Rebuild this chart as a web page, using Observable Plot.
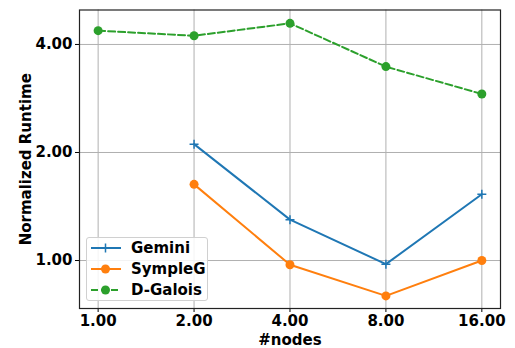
<!DOCTYPE html>
<html>
<head>
<meta charset="utf-8">
<script src="https://cdn.jsdelivr.net/npm/d3@7"></script>
<script src="https://cdn.jsdelivr.net/npm/@observablehq/plot@0.6"></script>
<style>
  html, body { margin: 0; padding: 0; background: white; }
  #wrap { position: relative; width: 515px; height: 348px; }
  .legend { position: absolute; left: 86px; top: 237px; width: 122px; height: 64px;
    border: 1px solid #d0d0d0; border-radius: 3px; background: rgba(255,255,255,0.85);
    font-family: "DejaVu Sans"; font-weight: bold; font-size: 15px; box-sizing: border-box; }
  .legend .row { position: absolute; left: 0; height: 20px; display: flex; align-items: center; white-space: nowrap; }
</style>
</head>
<body>
<div id="wrap"></div>
<script>
const nodes = [1, 2, 4, 8, 16];
const xTicks = [1, 2, 4, 8, 16];
const yTicks = [1, 2, 4];
const seriesNames = ["Gemini", "SympleG", "D-Galois"];
const geminiX = [2, 4, 8, 16];
const gemini = [2.11, 1.30, 0.977, 1.53];
const sympleGX = [2, 4, 8, 16];
const sympleG = [1.63, 0.973, 0.797, 1.00];
const dGaloisX = [1, 2, 4, 8, 16];
const dGalois = [4.37, 4.23, 4.58, 3.47, 2.91];
const colors = ["#1f77b4", "#ff7f0e", "#2ca02c"];

const toRows = (xs, ys, s) => xs.map((x, i) => ({x, y: ys[i], s}));
const gRows = toRows(geminiX, gemini, seriesNames[0]);
const sRows = toRows(sympleGX, sympleG, seriesNames[1]);
const dRows = toRows(dGaloisX, dGalois, seriesNames[2]);

const plusSymbol = {
  draw(context, size) {
    const r = 4.5;
    context.moveTo(-r, 0); context.lineTo(r, 0);
    context.moveTo(0, -r); context.lineTo(0, r);
  }
};

const chart = Plot.plot({
  width: 515,
  height: 348,
  marginLeft: 79,
  marginRight: 15,
  marginTop: 9.5,
  marginBottom: 40,
  style: {fontFamily: "DejaVu Sans", fontSize: "14.5px", fontWeight: "bold", color: "black", background: "white", overflow: "visible"},
  x: {type: "log", base: 2, domain: [0.874, 18.31], ticks: xTicks, tickFormat: d3.format(".2f"),
      label: "#nodes", labelAnchor: "center", labelOffset: 36, tickSize: 4, tickPadding: 3, labelArrow: "none"},
  y: {type: "log", base: 2, domain: [0.735, 4.99], ticks: yTicks, tickFormat: d3.format(".2f"),
      label: "Normalized Runtime", labelAnchor: "center", labelOffset: 59, tickSize: 4, tickPadding: 3, labelArrow: "none"},
  marks: [
    Plot.ruleX(xTicks, {stroke: "#b0b0b0", strokeWidth: 1}),
    Plot.ruleY(yTicks, {stroke: "#b0b0b0", strokeWidth: 1}),
    Plot.line(gRows, {x: "x", y: "y", stroke: colors[0], strokeWidth: 2}),
    Plot.dot(gRows, {x: "x", y: "y", stroke: colors[0], symbol: plusSymbol, strokeWidth: 1.5, fill: "none"}),
    Plot.line(sRows, {x: "x", y: "y", stroke: colors[1], strokeWidth: 2}),
    Plot.dot(sRows, {x: "x", y: "y", fill: colors[1], r: 4.5}),
    Plot.line(dRows, {x: "x", y: "y", stroke: colors[2], strokeWidth: 2, strokeDasharray: "7,3"}),
    Plot.dot(dRows, {x: "x", y: "y", fill: colors[2], r: 4.5}),
    Plot.frame({stroke: "#222", strokeWidth: 1.2})
  ]
});
chart.querySelectorAll('[aria-label$="label"] text, [aria-label$="label"]').forEach(el => {
  if (el.tagName === "text") el.style.fontSize = "15px";
});
const wrap = document.getElementById("wrap");
wrap.appendChild(chart);

// legend
const leg = document.createElement("div");
leg.className = "legend";
const markers = [
  `<path d="M18.5,5.5 L18.5,14.5 M14,10 L23,10" stroke="${colors[0]}" stroke-width="1.5"/>`,
  `<circle cx="18.5" cy="10" r="4.5" fill="${colors[1]}"/>`,
  `<circle cx="18.5" cy="10" r="4.5" fill="${colors[2]}"/>`
];
const dashes = ["", "", "7,3"];
seriesNames.forEach((name, i) => {
  const row = document.createElement("div");
  row.className = "row";
  row.style.top = (-0.5 + i * 21.3) + "px";
  row.innerHTML = `<svg width="44" height="20" style="display:block"><line x1="4" x2="34" y1="10" y2="10" stroke="${colors[i]}" stroke-width="2" ${dashes[i] ? `stroke-dasharray="${dashes[i]}"` : ""}/>${markers[i]}</svg><span>${name}</span>`;
  leg.appendChild(row);
});
wrap.appendChild(leg);
</script>
</body>
</html>
